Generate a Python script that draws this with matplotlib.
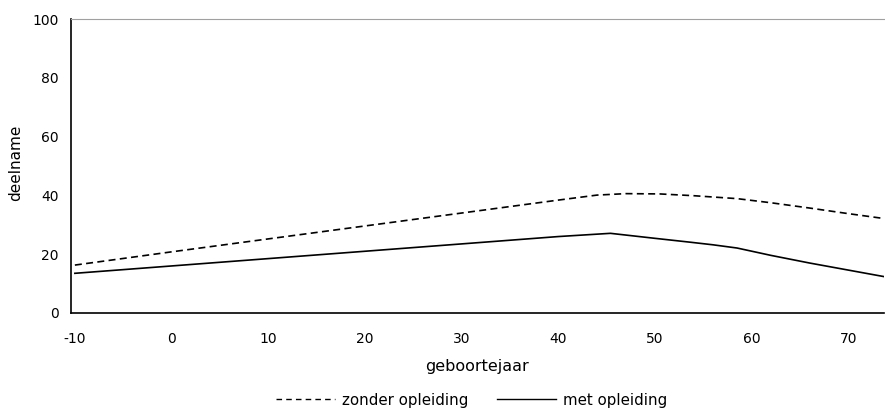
import matplotlib
matplotlib.use("Agg")
import matplotlib.pyplot as plt
from matplotlib.lines import Line2D

plt.rcParams['font.family'] = ['DejaVu Sans']

# Data
x_zonder = [-10, 0, 10, 20, 30, 40, 44, 47, 50.5, 54, 58.5, 62, 66, 70, 74]
y_zonder = [16.3, 20.8, 25.2, 29.6, 34.0, 38.4, 40.1, 40.6, 40.5, 39.9, 38.9, 37.5, 35.7, 33.8, 32.0]

x_met = [-10, 0, 10, 20, 30, 40, 45.4, 50, 53.6, 56, 58.5, 62, 66, 70, 74]
y_met = [13.5, 16.0, 18.5, 21.0, 23.5, 26.0, 27.1, 25.4, 24.1, 23.2, 22.1, 19.6, 17.0, 14.6, 12.2]

xticks = [-10, 0, 10, 20, 30, 40, 50, 60, 70]
xticklabels = ['-10', '0', '10', '20', '30', '40', '50', '60', '70']
yticks = [0, 20, 40, 60, 80, 100]

fig = plt.figure(figsize=(8.85, 4.15), dpi=100)
ax = fig.add_axes([71/885, 1-313/415, (884-71)/885, (313-19)/415])

dash = (0, (4.2, 2.6))
ax.plot(x_zonder, y_zonder, color='black', lw=1.2, ls=dash)
ax.plot(x_met, y_met, color='black', lw=1.2, ls='-')

ax.set_xlim(-10.4, 73.7)
ax.set_ylim(0, 100)
ax.set_xticks(xticks)
ax.set_xticklabels(xticklabels)
ax.set_yticks(yticks)
ax.tick_params(axis='x', length=0, labelsize=10, pad=14)
ax.tick_params(axis='y', length=0, labelsize=10, pad=9)

ax.spines['right'].set_visible(False)
ax.spines['top'].set_color('#a0a0a0')
ax.spines['top'].set_linewidth(0.8)
ax.spines['left'].set_linewidth(1.2)
ax.spines['bottom'].set_linewidth(1.2)

ax.set_xlabel('geboortejaar', fontsize=11.5, labelpad=9)
fig.text(16/885, 1-163/415, 'deelname', rotation=90, fontsize=11,
         ha='center', va='center')

handles = [Line2D([0], [0], color='black', lw=1.0, ls=(0, (4, 3))),
           Line2D([0], [0], color='black', lw=1.0, ls='-')]
fig.legend(handles, ['zonder opleiding', 'met opleiding'], loc='lower center',
           bbox_to_anchor=(0.533, -0.015), ncol=2, frameon=False, fontsize=10.8,
           handlelength=3.9, handletextpad=0.5, columnspacing=1.9)

fig.savefig('out.png', dpi=100)
